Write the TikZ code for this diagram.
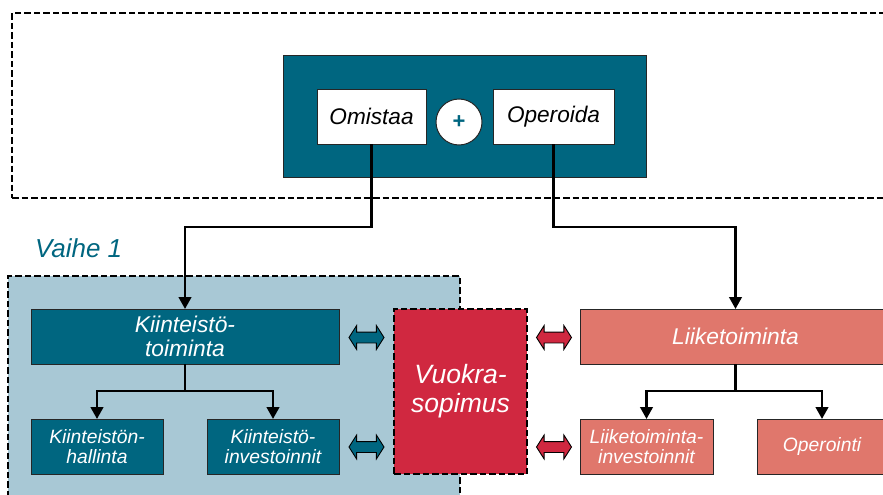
\documentclass[tikz,border=0pt]{standalone}
\usepackage{fontspec}
\setmainfont{Liberation Sans}
\usetikzlibrary{positioning,arrows.meta,shapes.arrows}
\definecolor{petrol}{RGB}{0,102,128}
\definecolor{paleblue}{RGB}{168,200,213}
\definecolor{leasered}{RGB}{208,40,64}
\definecolor{salmon}{RGB}{224,119,108}

\begin{document}
\begin{tikzpicture}[x=1pt, y=-1pt,
    every node/.style={outer sep=0pt},
    tealnode/.style={rectangle, draw=black!85, fill=petrol, text=white, line width=1pt, inner sep=0pt, align=center, minimum height=55pt, font=\fontsize{22.8}{24}\selectfont\itshape},
    smalltealnode/.style={tealnode, font=\fontsize{19.3}{20.5}\selectfont\itshape},
    salmonnode/.style={tealnode, fill=salmon},
    smallsalmonnode/.style={smalltealnode, fill=salmon},
    whitenode/.style={rectangle, draw=black!85, fill=white, line width=1pt, inner sep=0pt, minimum height=55pt, font=\fontsize{22.6}{24}\selectfont\itshape},
    framenode/.style={rectangle, draw=black, dash pattern=on 6.5pt off 3pt, line width=2pt, anchor=north west, inner sep=0pt},
    linkarrow/.style={-{Triangle[width=12.5pt,length=12pt]}, line width=2.7pt},
    twoway/.style={double arrow, draw=black, line width=0.9pt, minimum height=35pt, inner xsep=0pt, inner ysep=5pt, double arrow head extend=6.5pt, double arrow tip angle=115},
]
\useasboundingbox (0,0) rectangle (883,495);
\clip (0,0) rectangle (883,495);

\node[framenode, minimum width=900pt, minimum height=185pt] (outerframe) at (12,13) {};
\node[framenode, fill=paleblue, minimum width=452pt, minimum height=240pt] (phasearea) at (8,276) {};

\node[rectangle, draw=black!85, fill=petrol, line width=1pt, minimum width=363pt, minimum height=121pt] (topbox) at (464.5,116.5) {};
\node[whitenode, minimum width=109pt] (owning) at (371.5,116.5) {Omistaa};
\node[whitenode, minimum width=121pt] (operating) at (553.5,116.5) {Operoida};
\node[circle, draw=black!85, fill=white, line width=1pt, minimum size=46pt, inner sep=0pt, text=petrol, font=\fontsize{22}{22}\selectfont\bfseries] (plussign) at (459,122) {+};

\node[anchor=west, inner sep=0pt, text=petrol, font=\fontsize{26}{28}\selectfont\itshape] (phaselabel) at (35,248) {Vaihe 1};

\node[tealnode, minimum width=308pt, anchor=north west] (realestate) at (31,309) {Kiinteistö-\\toiminta};
\node[smalltealnode, minimum width=132pt, below=55pt of realestate.south west, anchor=north west] (management) {Kiinteistön-\\hallinta};
\node[smalltealnode, minimum width=132pt, below=55pt of realestate.south east, anchor=north east] (investments) {Kiinteistö-\\investoinnit};

\node[rectangle, draw=black, dash pattern=on 6.5pt off 3pt, line width=2pt, fill=leasered, text=white, inner sep=0pt, align=center, minimum width=133pt, minimum height=165pt, font=\fontsize{26.5}{29}\selectfont\itshape, right=55pt of realestate.north east, anchor=north west] (lease) {Vuokra-\\sopimus};

\node[salmonnode, minimum width=311pt, right=53pt of lease.north east, anchor=north west] (business) {Liiketoiminta};
\node[smallsalmonnode, minimum width=133pt, below=55pt of business.south west, anchor=north west] (businessinv) {Liiketoiminta-\\investoinnit};
\node[smallsalmonnode, minimum width=130pt, right=44pt of businessinv.north east, anchor=north west] (operation) {Operointi};

\node[twoway, fill=petrol] (leftupper) at (366.5,337.5) {};
\node[twoway, fill=petrol] (leftlower) at (366.5,447) {};
\node[twoway, fill=leasered] (rightupper) at (554,337.5) {};
\node[twoway, fill=leasered] (rightlower) at (554,447) {};

\coordinate (toplevel) at (0,227);
\coordinate (leftsplit) at (0,391);
\draw[linkarrow] (owning.south) -- (owning.south |- toplevel) -| (realestate.north);
\draw[linkarrow] (operating.south) -- (operating.south |- toplevel) -| (business.north);
\draw[linkarrow] (realestate.south) -- (realestate.south |- leftsplit) -| (management.north);
\draw[linkarrow] (realestate.south |- leftsplit) -| (investments.north);
\draw[linkarrow] (business.south) -- (business.south |- leftsplit) -| (businessinv.north);
\draw[linkarrow] (business.south |- leftsplit) -| (operation.north);
\end{tikzpicture}
\end{document}
